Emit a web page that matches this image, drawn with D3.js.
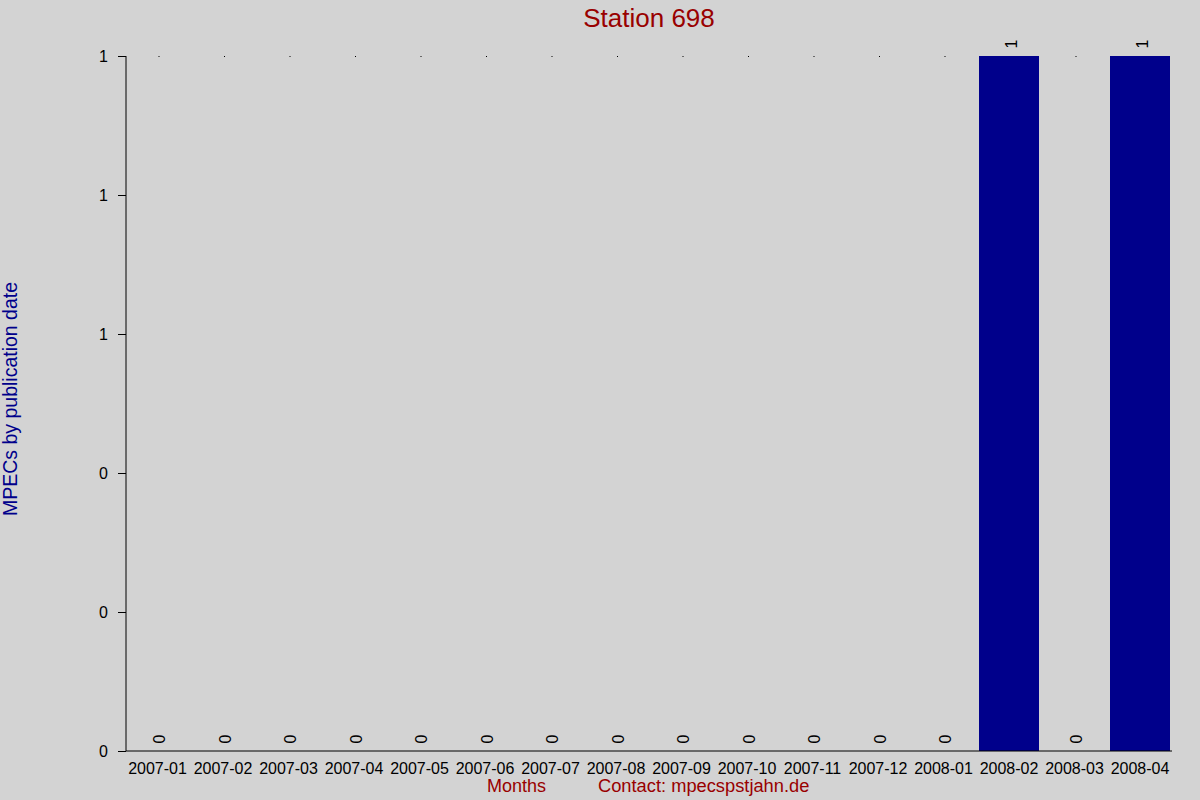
<!DOCTYPE html>
<html>
<head>
<meta charset="utf-8">
<script src="https://cdn.jsdelivr.net/npm/d3@7"></script>
<style>
  html, body { margin: 0; padding: 0; background: #d3d3d3; }
  svg { display: block; font-family: "Liberation Sans", Arial, sans-serif; }
</style>
</head>
<body>
<div id="chart"></div>
<script>
const months = ["2007-01", "2007-02", "2007-03", "2007-04", "2007-05", "2007-06", "2007-07", "2007-08",
  "2007-09", "2007-10", "2007-11", "2007-12", "2008-01", "2008-02", "2008-03", "2008-04"];
const mpecs = [0, 0, 0, 0, 0, 0, 0, 0, 0, 0, 0, 0, 0, 1, 0, 1];
const yTicks = [0, 0.2, 0.4, 0.6, 0.8, 1];

const width = 1200;
const height = 800;
const plot = { left: 126, right: 1172, top: 56, bottom: 751 };

const svg = d3.select("#chart")
  .append("svg")
  .attr("width", width)
  .attr("height", height);

svg.append("rect")
  .attr("width", width)
  .attr("height", height)
  .attr("fill", "#d3d3d3");

const step = 65.5;
const x = d3.scaleBand()
  .domain(months)
  .range([124.75, 124.75 + step * months.length])
  .paddingInner(5.5 / step)
  .paddingOuter(5.5 / step / 2);

const y = d3.scaleLinear()
  .domain([0, 1])
  .range([plot.bottom, plot.top]);

// bars
svg.selectAll("rect.bar")
  .data(mpecs)
  .enter()
  .append("rect")
  .attr("class", "bar")
  .attr("x", (d, i) => x(months[i]))
  .attr("y", (d) => y(d))
  .attr("width", x.bandwidth())
  .attr("height", (d) => y(0) - y(d))
  .attr("fill", "#00008b");

// tiny marks at top for empty months
svg.selectAll("rect.dot")
  .data(mpecs.map((d, i) => ({ d, m: months[i] })).filter((e) => e.d === 0))
  .enter()
  .append("rect")
  .attr("class", "dot")
  .attr("x", (e) => x(e.m) + x.bandwidth() / 2 + 1)
  .attr("y", y(1))
  .attr("width", 1)
  .attr("height", 1)
  .attr("fill", "#000");

// value labels, rotated
svg.selectAll("text.val")
  .data(mpecs)
  .enter()
  .append("text")
  .attr("class", "val")
  .attr("text-anchor", "middle")
  .attr("dominant-baseline", "central")
  .attr("font-size", 16)
  .attr("fill", "#000")
  .attr("transform", (d, i) => `translate(${x(months[i]) + x.bandwidth() / 2 + 2}, ${y(d) - 12}) rotate(-90)`)
  .text((d) => d);

// y axis
const yAxis = d3.axisLeft(y)
  .tickValues(yTicks)
  .tickFormat(d3.format(".0f"))
  .tickSize(8)
  .tickPadding(10);

const gy = svg.append("g")
  .attr("transform", `translate(${plot.left}, 0)`)
  .call(yAxis);
gy.select(".domain").attr("d", `M0,${plot.top}V${plot.bottom}`).attr("stroke", "#000");
gy.selectAll("text").attr("font-size", 16).attr("font-family", "Liberation Sans, Arial, sans-serif").attr("fill", "#000");

// x axis
const xAxis = d3.axisBottom(x).tickSize(0).tickPadding(12);
const gx = svg.append("g")
  .attr("transform", `translate(0, ${plot.bottom})`)
  .call(xAxis);
gx.select(".domain").attr("d", `M${plot.left},0H${plot.right}`).attr("stroke", "#000");
gx.selectAll("text").attr("font-size", 16).attr("font-family", "Liberation Sans, Arial, sans-serif").attr("fill", "#000");

// title
svg.append("text")
  .attr("x", 649)
  .attr("y", 27)
  .attr("text-anchor", "middle")
  .attr("font-size", 26)
  .attr("fill", "#990000")
  .text("Station 698");

// y label
svg.append("text")
  .attr("transform", "translate(17, 399) rotate(-90)")
  .attr("text-anchor", "middle")
  .attr("font-size", 19.5)
  .attr("fill", "#00008b")
  .text("MPECs by publication date");

// bottom labels
svg.append("text")
  .attr("x", 487)
  .attr("y", 792)
  .attr("font-size", 18)
  .attr("fill", "#990000")
  .text("Months");

svg.append("text")
  .attr("x", 598)
  .attr("y", 792)
  .attr("font-size", 18.3)
  .attr("fill", "#990000")
  .text("Contact: mpecspstjahn.de");
</script>
</body>
</html>
